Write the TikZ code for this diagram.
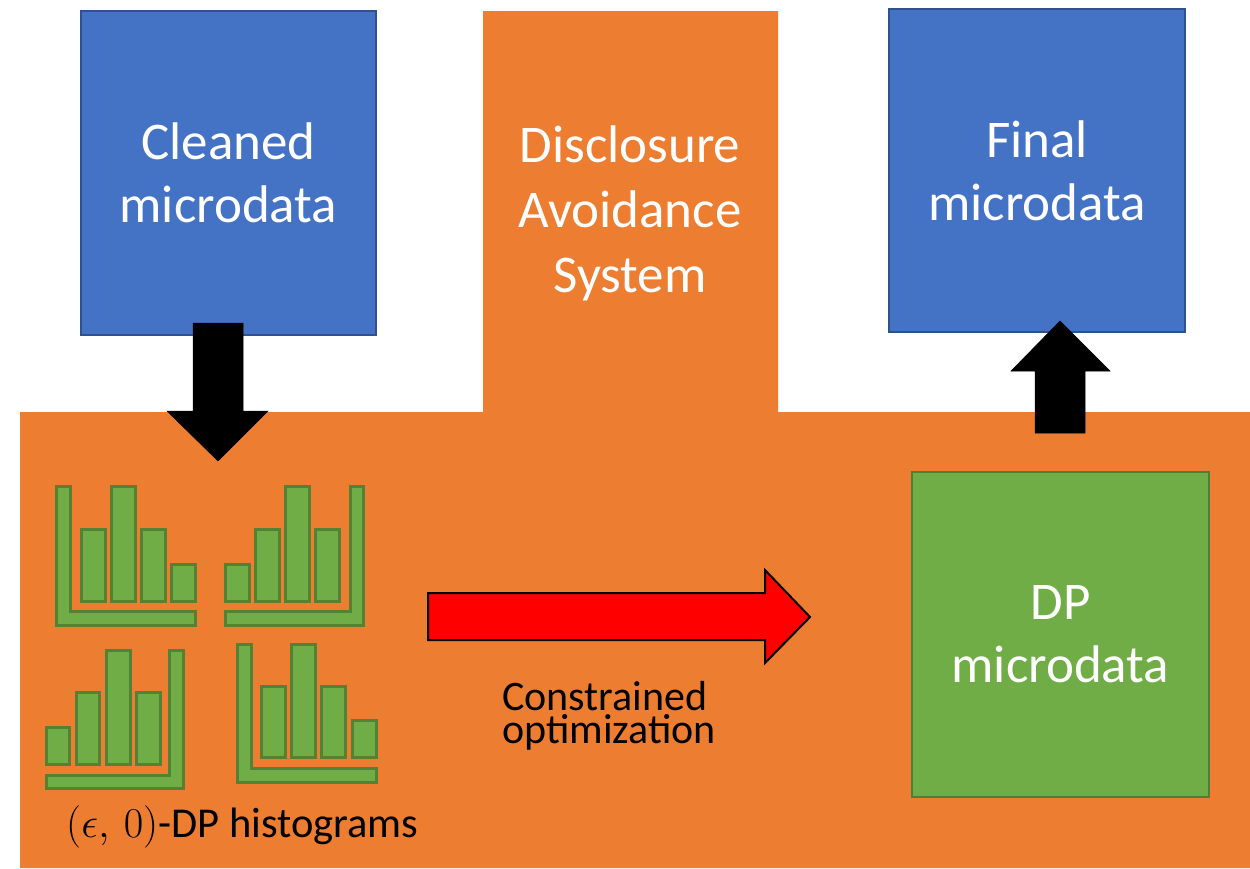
\RequirePackage{fix-cm}
\documentclass[tikz,border=0pt]{standalone}
\usepackage{fontspec}
\setmainfont{Carlito}
\definecolor{bluebox}{HTML}{4472C4}
\definecolor{blueedge}{HTML}{2F528F}
\definecolor{orangebg}{HTML}{ED7D31}
\definecolor{greenbox}{HTML}{70AD47}
\definecolor{greenedge}{HTML}{507E32}
\definecolor{histedge}{HTML}{548235}
\tikzset{
  datebox/.style={draw=blueedge, line width=1.2pt, fill=bluebox, text=white, align=center, inner sep=0pt, font=\fontsize{53}{63}\selectfont},
  dpbox/.style={draw=greenedge, line width=1.5pt, fill=greenbox, text=white, align=center, inner sep=0pt, font=\fontsize{53}{63}\selectfont},
  histbar/.style={draw=histedge, line width=3pt, fill=greenbox},
  blockarrow/.style={fill=black, draw=black, line width=0.5pt},
  redarrow/.style={fill=red, draw=black, line width=2pt, line join=miter},
  lbl/.style={text=black, inner sep=0pt, anchor=base west},
}
\begin{document}
\begin{tikzpicture}[x=1pt,y=-1pt]
\useasboundingbox (0,0) rectangle (1250,868);
\fill[white] (0,0) rectangle (1250,868);
% orange system region
\fill[orangebg] (20,412) -- (483,412) -- (483,11) -- (778,11) -- (778,412) -- (1250,412) -- (1250,868) -- (20,868) -- cycle;
\node[text=white, align=center, inner sep=0pt, font=\fontsize{53}{65}\selectfont] (das) at (630,213) {Disclosure\\Avoidance\\System};
% blue boxes
\node[datebox, minimum width=295pt, minimum height=324pt] (clean) at (228.5,173) {Cleaned\\microdata};
\node[datebox, minimum width=296pt, minimum height=323pt] (final) at (1037,170.5) {Final\\microdata};
% green box
\node[dpbox, minimum width=297pt, minimum height=325pt] (dp) at (1060.5,634.5) {DP\\microdata};
% down arrow
\draw[blockarrow] (193,323) -- (243,323) -- (243,411) -- (268,411) -- (218,461) -- (167,411) -- (193,411) -- cycle;
% up arrow
\draw[blockarrow] (1035,433) -- (1085,433) -- (1085,371) -- (1110,371) -- (1060,321) -- (1011,371) -- (1035,371) -- cycle;
% red arrow
\draw[redarrow] (428,593) -- (765,593) -- (765,570) -- (810,617) -- (765,663) -- (765,640) -- (428,640) -- cycle;
% histogram 1 (top-left)
\draw[histbar] (56.7,486.7) -- (70.7,486.7) -- (70.7,611.7) -- (195.3,611.7) -- (195.3,625) -- (56.7,625) -- cycle;
\draw[histbar] (81,529) rectangle (105,601);
\draw[histbar] (111,486.7) rectangle (135,601);
\draw[histbar] (141.3,529) rectangle (165,601);
\draw[histbar] (171.7,564) rectangle (195.3,601);
% histogram 2 (top-right)
\draw[histbar] (350,486.7) -- (363.3,486.7) -- (363.3,625) -- (225.7,625) -- (225.7,611.7) -- (350,611.7) -- cycle;
\draw[histbar] (225.7,564) rectangle (249,601);
\draw[histbar] (255.3,529) rectangle (279.3,601);
\draw[histbar] (285.7,486.7) rectangle (309.3,601);
\draw[histbar] (315.7,529) rectangle (339.3,601);
% histogram 3 (bottom-left)
\draw[histbar] (169.7,650.7) -- (183.7,650.7) -- (183.7,788.3) -- (46,788.3) -- (46,775.3) -- (169.7,775.3) -- cycle;
\draw[histbar] (46,727) rectangle (69.7,764.7);
\draw[histbar] (76,692.7) rectangle (99.7,764.7);
\draw[histbar] (106,650.7) rectangle (130,764.7);
\draw[histbar] (136,692.7) rectangle (160,764.7);
% histogram 4 (bottom-right)
\draw[histbar] (237.7,644.3) -- (251.3,644.3) -- (251.3,768.7) -- (376,768.7) -- (376,782) -- (237.7,782) -- cycle;
\draw[histbar] (261.7,686.7) rectangle (285.3,757.3);
\draw[histbar] (291.7,644.3) rectangle (315.7,757.3);
\draw[histbar] (321.7,686.7) rectangle (345.7,757.3);
\draw[histbar] (352.3,720.7) rectangle (376,757.3);
% labels
\node[lbl, font=\fontsize{42}{42}\selectfont] (opt1) at (502,710) {Constrained};
\node[lbl, font=\fontsize{42}{42}\selectfont] (opt2) at (502,743) {optimization};
\node[lbl, font=\fontsize{42.5}{48}\selectfont] (hlab) at (66,837) {$(\epsilon,\,0)$-DP histograms};
\end{tikzpicture}
\end{document}
